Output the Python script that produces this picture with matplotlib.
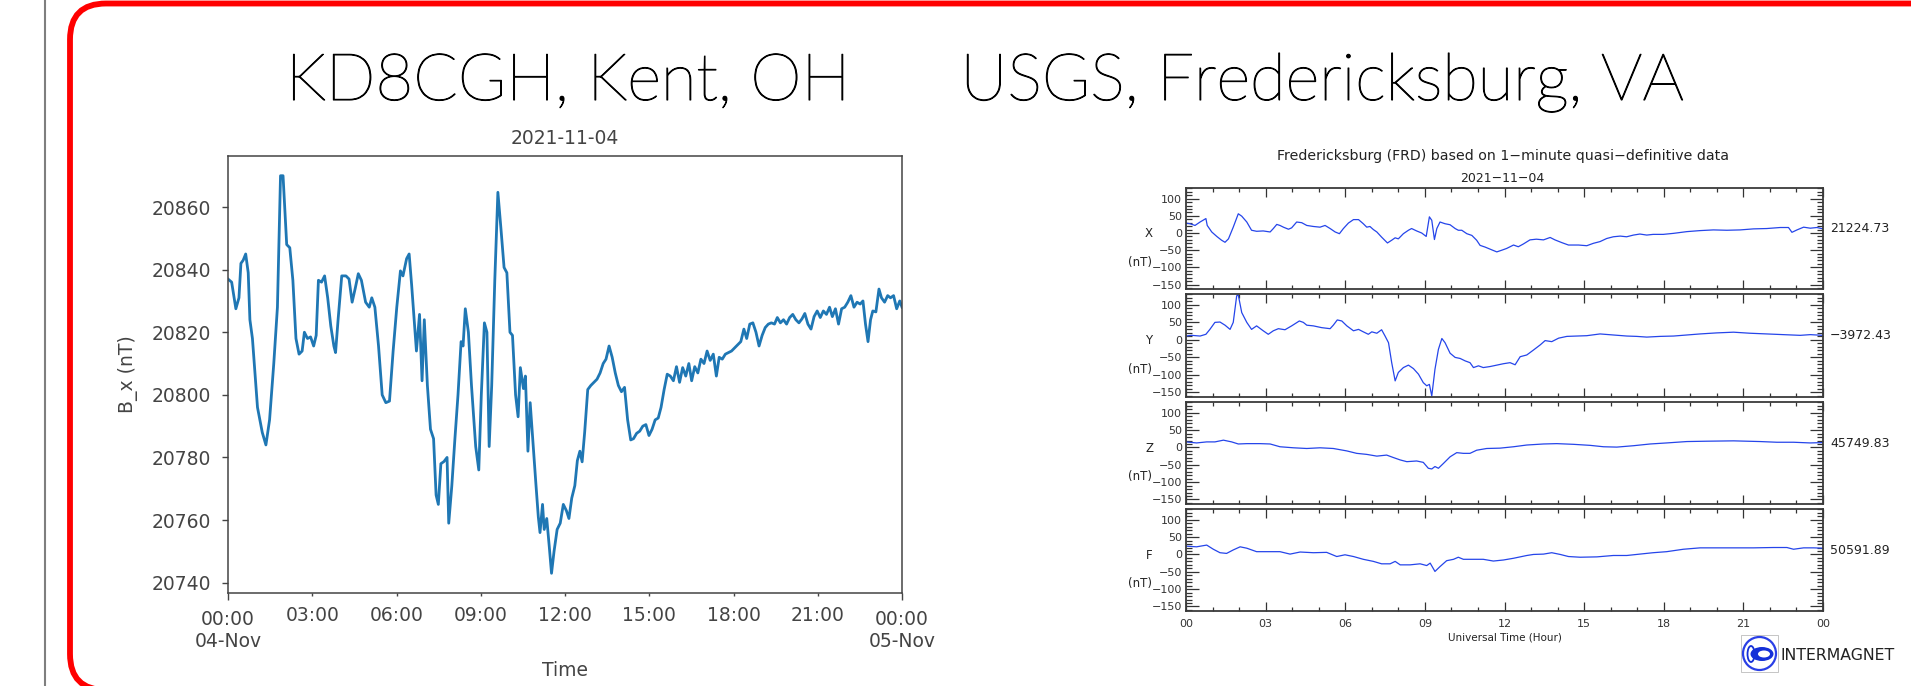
import matplotlib.pyplot as plt
import matplotlib.patheffects as pe
from matplotlib.patches import FancyBboxPatch, Circle, Ellipse, Rectangle

W, H = 1911, 686

# KD8CGH, Kent OH -- B_x (nT), hours from 00:00 04-Nov
kent_hours = [0.00, 0.13, 0.28, 0.39, 0.46, 0.54, 0.63, 0.72, 0.78, 0.87, 1.05, 1.22, 1.35, 1.48, 1.63,
              1.76, 1.87, 1.96, 2.09, 2.20, 2.31, 2.42, 2.53, 2.64, 2.72, 2.83, 2.94, 3.05, 3.14, 3.22,
              3.33, 3.44, 3.55, 3.66, 3.77, 3.83, 3.92, 4.05, 4.20, 4.31, 4.42, 4.53, 4.64, 4.75, 4.90,
              5.03, 5.12, 5.23, 5.36, 5.49, 5.62, 5.75, 5.88, 6.01, 6.14, 6.23, 6.36, 6.45, 6.54, 6.64,
              6.71, 6.82, 6.91, 6.99, 7.10, 7.21, 7.32, 7.41, 7.49, 7.58, 7.69, 7.80, 7.86, 7.97, 8.08,
              8.19, 8.30, 8.37, 8.45, 8.56, 8.67, 8.82, 8.93, 9.02, 9.13, 9.22, 9.30, 9.39, 9.50, 9.61,
              9.72, 9.83, 9.93, 10.04, 10.13, 10.24, 10.33, 10.41, 10.52, 10.59, 10.68, 10.76, 10.85,
              10.96, 11.05, 11.11, 11.20, 11.26, 11.35, 11.44, 11.52, 11.61, 11.72, 11.83, 11.94, 12.05,
              12.14, 12.24, 12.35, 12.44, 12.53, 12.61, 12.70, 12.81, 12.92, 13.03, 13.14, 13.25, 13.36,
              13.46, 13.57, 13.68, 13.79, 13.90, 14.01, 14.12, 14.23, 14.34, 14.44, 14.55, 14.66, 14.77,
              14.88, 14.99, 15.10, 15.21, 15.32, 15.42, 15.53, 15.64, 15.75, 15.86, 15.97, 16.08, 16.19,
              16.30, 16.41, 16.51, 16.62, 16.73, 16.84, 16.95, 17.06, 17.17, 17.28, 17.39, 17.49, 17.60,
              17.71, 17.82, 17.93, 18.04, 18.15, 18.26, 18.37, 18.47, 18.58, 18.69, 18.80, 18.91, 19.02,
              19.13, 19.24, 19.35, 19.46, 19.56, 19.67, 19.78, 19.89, 20.00, 20.11, 20.22, 20.33, 20.44,
              20.54, 20.65, 20.76, 20.87, 20.98, 21.09, 21.20, 21.31, 21.42, 21.52, 21.63, 21.74, 21.85,
              21.96, 22.07, 22.18, 22.29, 22.40, 22.51, 22.61, 22.70, 22.79, 22.88, 22.96, 23.07, 23.18,
              23.27, 23.38, 23.49, 23.59, 23.70, 23.81, 23.92, 24.00]
kent_bx = [20837, 20836, 20827.5, 20831, 20842, 20843, 20845, 20839, 20824, 20818, 20796, 20788, 20784,
           20792, 20810, 20828, 20870, 20870, 20848, 20847, 20836.6, 20818, 20813, 20814, 20820, 20818,
           20818.5, 20815.6, 20819, 20836.6, 20836, 20838, 20831, 20822, 20815.6, 20813.5, 20824, 20838,
           20838, 20837, 20829.6, 20834, 20838.7, 20836.6, 20829.6, 20828, 20831, 20828, 20815.6, 20800,
           20797.5, 20798, 20814, 20828, 20839.6, 20838, 20843.5, 20845, 20835, 20822.6, 20814, 20825.7,
           20804.5, 20824, 20803, 20789, 20786, 20768, 20765, 20778, 20778.7, 20780, 20759, 20771, 20786,
           20800, 20817, 20815.6, 20827.5, 20820, 20803, 20783.5, 20776, 20800, 20823, 20820, 20783.5,
           20803, 20836.6, 20864.7, 20853, 20840.7, 20839, 20820, 20819, 20800, 20793, 20808.7, 20802,
           20806, 20782, 20797.5, 20786, 20772, 20761, 20756, 20765, 20757, 20760.5, 20751.5, 20743,
           20750, 20757, 20759, 20765, 20763, 20760.5, 20767, 20771, 20779, 20782, 20778.6, 20788,
           20801.7, 20803, 20804, 20805, 20807, 20810, 20811.4, 20815.6, 20812, 20807, 20803, 20801,
           20802.4, 20792, 20785.6, 20786, 20787.7, 20788.4, 20790, 20790.5, 20787, 20789, 20792,
           20792.6, 20796, 20801.7, 20806.6, 20806, 20804.5, 20809, 20804, 20808.7, 20806, 20810,
           20804.5, 20809, 20807, 20811.4, 20810, 20814, 20811, 20813, 20806, 20812, 20811.4, 20813,
           20813.5, 20814, 20815, 20816, 20817, 20821, 20818, 20822.6, 20823, 20820, 20815.6, 20819,
           20821.5, 20822.6, 20823, 20822.6, 20824.7, 20823, 20824, 20822.6, 20824.7, 20825.7, 20824,
           20823, 20824.3, 20826, 20822.6, 20821, 20825, 20826.8, 20824.7, 20826.8, 20825.7, 20828,
           20825, 20827.5, 20822.6, 20827.5, 20828, 20829.6, 20831.7, 20828, 20829.6, 20829, 20830,
           20822.6, 20817, 20824, 20826.8, 20826.5, 20833.8, 20831, 20829.6, 20831.7, 20831, 20831.7,
           20827.5, 20830, 20828]

# USGS Fredericksburg (FRD), deviations from baseline (nT), hours UT
frd_x_hours = [0, 0.15, 0.34, 0.53, 0.75, 0.8, 0.97, 1.16, 1.34, 1.47, 1.6, 1.78, 1.97, 2.1, 2.29, 2.47,
               2.66, 2.91, 3.17, 3.29, 3.42, 3.54, 3.67, 3.86, 3.98, 4.17, 4.36, 4.55, 4.8, 5.05, 5.24,
               5.43, 5.62, 5.78, 5.93, 6.12, 6.31, 6.5, 6.68, 6.81, 6.93, 7.06, 7.19, 7.37, 7.59, 7.75,
               7.88, 8.0, 8.19, 8.38, 8.5, 8.69, 8.88, 9.05, 9.17, 9.26, 9.36, 9.45, 9.57, 9.76, 9.95,
               10.14, 10.26, 10.39, 10.58, 10.77, 10.95, 11.08, 11.27, 11.52, 11.71, 11.9, 12.08, 12.34,
               12.52, 12.71, 12.96, 13.2, 13.47, 13.72, 13.9, 14.16, 14.41, 14.79, 15.1, 15.35, 15.6,
               15.85, 16.1, 16.36, 16.6, 16.86, 17.1, 17.36, 17.6, 17.98, 18.37, 18.87, 19.37, 19.87,
               20.38, 20.88, 21.38, 21.88, 22.39, 22.7, 22.83, 23.02, 23.27, 23.52, 23.77, 24.0]
frd_x = [29, 27, 22, 32, 42, 22, 3, -10, -21, -27, -17, 17, 56, 49, 32, 8, 5, 6, 3, 13, 25, 22, 17, 11,
         15, 32, 30, 22, 19, 17, 22, 13, 3, -2, 13, 29, 39, 39, 27, 17, 19, 10, 3, -12, -29, -21, -14,
         -17, -2, 8, 13, 6, 0, -10, 47, 37, -19, 13, 32, 27, 24, 13, 8, 8, -2, -7, -21, -36, -41, -49,
         -55, -50, -45, -35, -40, -32, -20, -18, -20, -13, -20, -28, -35, -35, -37, -30, -25, -16, -11,
         -9, -11, -6, -3, -6, -4, -4, -1, 4, 7, 9, 8, 9, 12, 13, 16, 16, 2, 9, 17, 14, 16, 12]

frd_y_hours = [0, 0.21, 0.53, 0.75, 0.9, 1.09, 1.28, 1.47, 1.66, 1.78, 1.91, 1.97, 2.1, 2.29, 2.47, 2.66,
               2.91, 3.1, 3.29, 3.48, 3.73, 3.98, 4.27, 4.42, 4.55, 4.8, 5.11, 5.43, 5.55, 5.7, 5.87,
               6.06, 6.31, 6.5, 6.68, 6.87, 7.0, 7.19, 7.37, 7.5, 7.63, 7.75, 7.88, 8.0, 8.19, 8.38,
               8.57, 8.76, 8.94, 9.07, 9.17, 9.26, 9.38, 9.51, 9.64, 9.76, 9.95, 10.14, 10.33, 10.52,
               10.7, 10.83, 11.02, 11.2, 11.46, 11.71, 11.96, 12.21, 12.4, 12.59, 12.84, 13.09, 13.35,
               13.53, 13.78, 14.04, 14.35, 14.72, 15.1, 15.6, 16.1, 16.61, 16.98, 17.36, 17.86, 18.37,
               18.87, 19.37, 20.0, 20.63, 21.25, 21.88, 22.51, 23.14, 23.52, 24.0]
frd_y = [11, 13, 11, 16, 30, 50, 51, 42, 30, 50, 126, 128, 78, 50, 30, 40, 26, 16, 26, 32, 29, 40, 54,
         50, 42, 40, 35, 32, 42, 57, 54, 40, 26, 30, 23, 16, 23, 19, 29, 11, -8, -65, -117, -93, -79,
         -72, -82, -98, -122, -131, -127, -160, -84, -27, 4, -8, -38, -50, -53, -60, -65, -79, -74, -79,
         -76, -72, -68, -65, -71, -48, -43, -29, -14, -2, -5, 5, 10, 11, 12, 17, 14, 11, 10, 8, 10, 11,
         14, 17, 20, 22, 19, 17, 15, 13, 15, 13]

frd_z_hours = [0, 0.4, 0.78, 1.09, 1.41, 1.72, 1.97, 2.29, 2.79, 3.17, 3.54, 4.05, 4.55, 5.05, 5.55, 6.06,
               6.43, 6.81, 7.19, 7.56, 7.81, 8.07, 8.32, 8.69, 8.94, 9.13, 9.26, 9.38, 9.51, 9.7, 9.95,
               10.2, 10.45, 10.7, 10.95, 11.33, 11.83, 12.34, 12.84, 13.47, 13.97, 14.6, 15.23, 15.73,
               16.23, 16.86, 17.49, 18.11, 18.87, 19.62, 20.63, 21.63, 22.26, 22.89, 23.52, 24.0]
frd_z = [16, 13, 16, 16, 21, 16, 10, 11, 11, 10, 2, -1, -3, -1, -3, -10, -17, -20, -25, -22, -29, -36,
         -41, -39, -43, -60, -62, -55, -60, -46, -27, -15, -17, -17, -8, -3, -2, 2, 7, 10, 11, 9, 6, 2,
         1, 5, 10, 13, 17, 18, 19, 17, 15, 15, 13, 14]

frd_f_hours = [0, 0.4, 0.78, 1.03, 1.28, 1.53, 1.78, 2.04, 2.29, 2.66, 3.04, 3.54, 3.92, 4.3, 4.8, 5.3,
               5.68, 5.99, 6.31, 6.68, 7.06, 7.37, 7.69, 7.88, 8.07, 8.44, 8.82, 9.07, 9.2, 9.38, 9.57,
               9.82, 10.08, 10.26, 10.45, 10.83, 11.2, 11.58, 11.96, 12.34, 12.84, 13.09, 13.47, 13.78,
               14.1, 14.41, 14.85, 15.48, 16.1, 16.61, 17.1, 17.6, 18.11, 18.74, 19.37, 20.0, 20.63,
               21.38, 22.13, 22.64, 22.89, 23.27, 23.65, 24.0]
frd_f = [24, 22, 27, 15, 5, 3, 13, 22, 18, 8, 8, 8, 1, 7, 5, 6, -6, -1, -6, -14, -20, -27, -27, -20, -30,
         -30, -27, -32, -25, -49, -35, -18, -14, -8, -14, -14, -14, -19, -16, -11, -3, 0, 1, 5, 0, -6,
         -8, -7, -3, -3, 1, 5, 8, 15, 19, 19, 19, 19, 20, 20, 15, 19, 19, 18]

frd_names = ['X', 'Y', 'Z', 'F']
frd_baselines = ['21224.73', '\u22123972.43', '45749.83', '50591.89']
frd_hour_labels = ['00', '03', '06', '09', '12', '15', '18', '21', '00']


def frame(left, top, right, bottom):
    # pixel box (from top-left) -> figure fraction
    return [left / W, 1 - bottom / H, (right - left) / W, (bottom - top) / H]


fig = plt.figure(figsize=(W / 100, H / 100), dpi=100)

# backdrop in pixels, y measured upward: divider, red rounded frame, headings, logo
bg = fig.add_axes([0, 0, 1, 1])
bg.set_xlim(0, W)
bg.set_ylim(0, H)
bg.axis('off')
bg.plot([45, 45], [0, H], color='#7f7f7f', lw=1.5)
bg.add_patch(FancyBboxPatch((70, H - 690), 1900, 686.5, boxstyle='round,pad=0,rounding_size=36',
                            fill=False, ec='#ff0000', lw=4.2))
big = dict(fontsize=47, family=['Lato', 'DejaVu Sans'], fontweight='light', color='black',
           ha='center', va='baseline',
           path_effects=[pe.withStroke(linewidth=0.8, foreground='black')])
bg.text(568, H - 100, 'KD8CGH, Kent, OH', **big)
bg.text(1322, H - 100, 'USGS, Fredericksburg, VA', **big)
bg.text(1503, H - 156, 'Fredericksburg (FRD) based on 1\u2212minute quasi\u2212definitive data',
        fontsize=10.2, color='#222222', ha='center', va='center')
bg.text(1502, H - 178, '2021\u221211\u221204', fontsize=9, color='#222222', ha='center', va='center')

# INTERMAGNET logo
bg.add_patch(Rectangle((1741, H - 672), 37, 37, fill=False, ec='#bbbbbb', lw=0.6))
bg.add_patch(Circle((1759.5, H - 653.5), 16.5, fill=False, ec='#2a3fe6', lw=1.6))
bg.add_patch(Ellipse((1762, H - 654), 23, 14, fc='#1530d8', ec='none'))
bg.add_patch(Ellipse((1764, H - 654), 12, 7, fc='white', ec='none'))
bg.add_patch(Ellipse((1751, H - 654), 7, 16, fill=False, ec='#1530d8', lw=1.3))
bg.text(1781, H - 656, 'INTERMAGNET', fontsize=11.3, color='#222222', ha='left', va='center')

# left: Kent magnetometer
txt = '#444444'
ax = fig.add_axes(frame(228, 156, 902, 593))
ax.plot(kent_hours, kent_bx, color='#1f77b4', lw=2)
ax.set_xlim(0, 24)
ax.set_ylim(20736.7, 20876.3)
ax.set_yticks(range(20740, 20861, 20))
ax.set_xticks([0, 24], ['00:00\n04-Nov', '00:00\n05-Nov'])
ax.set_xticks(range(3, 22, 3), ['%02d:00' % h for h in range(3, 22, 3)], minor=True)
ax.tick_params(axis='y', length=4.3, width=1, pad=8, labelsize=13.5, colors=txt)
ax.tick_params(axis='x', which='major', length=5, width=1, pad=7.5, labelsize=13.5, colors=txt)
ax.tick_params(axis='x', which='minor', length=2.2, width=1, pad=7.5, labelsize=13.5, colors=txt)
for s in ax.spines.values():
    s.set_color('#444444')
    s.set_linewidth(1.1)
ax.set_title('2021-11-04', fontsize=13.5, color=txt, pad=9)
ax.set_xlabel('Time', fontsize=13.5, color=txt)
ax.set_ylabel('B_x (nT)', fontsize=13.5, color=txt)
ax.xaxis.set_label_coords(0.5, -0.155)
ax.yaxis.set_label_coords(-0.133, 0.5)

# right: FRD four-panel plot
tops = [188, 294, 402, 509]
bottoms = [289, 397, 504, 611]
series = [(frd_x_hours, frd_x), (frd_y_hours, frd_y), (frd_z_hours, frd_z), (frd_f_hours, frd_f)]
for i, (hrs, dev) in enumerate(series):
    a = fig.add_axes(frame(1186, tops[i], 1823, bottoms[i]))
    a.plot(hrs, dev, color='#2545ea', lw=0.9)
    a.set_xlim(0, 24)
    a.set_ylim(-163, 131)
    a.set_xticks(range(0, 25, 3))
    a.set_xticks(range(25), minor=True)
    a.set_yticks(range(-150, 101, 50))
    a.set_yticks(range(-160, 131, 10), minor=True)
    a.tick_params(which='both', direction='in', top=True, right=True, colors='#333333',
                  labelsize=8, width=0.9, pad=3)
    a.tick_params(axis='x', which='major', length=6.5)
    a.tick_params(axis='x', which='minor', length=2.9)
    a.tick_params(axis='y', which='major', length=9.4)
    a.tick_params(axis='y', which='minor', length=4.3)
    if i == 3:
        a.set_xticklabels(frd_hour_labels)
        a.tick_params(axis='x', pad=5.5)
        a.set_xlabel('Universal Time (Hour)', fontsize=7.5, color='#222222')
        a.xaxis.set_label_coords(0.5, -0.21)
    else:
        a.set_xticklabels([])
    for s in a.spines.values():
        s.set_color('#3a3a3a')
        s.set_linewidth(1.3)
    a.text(-0.058, 0.545, frd_names[i], transform=a.transAxes, fontsize=8.5, color='#222222',
           ha='center', va='center')
    a.text(-0.072, 0.267, '(nT)', transform=a.transAxes, fontsize=8.5, color='#222222',
           ha='center', va='center')
    a.text(1.011, 0.595, frd_baselines[i], transform=a.transAxes, fontsize=9, color='#222222',
           ha='left', va='center')

fig.savefig('out.png', dpi=100)
